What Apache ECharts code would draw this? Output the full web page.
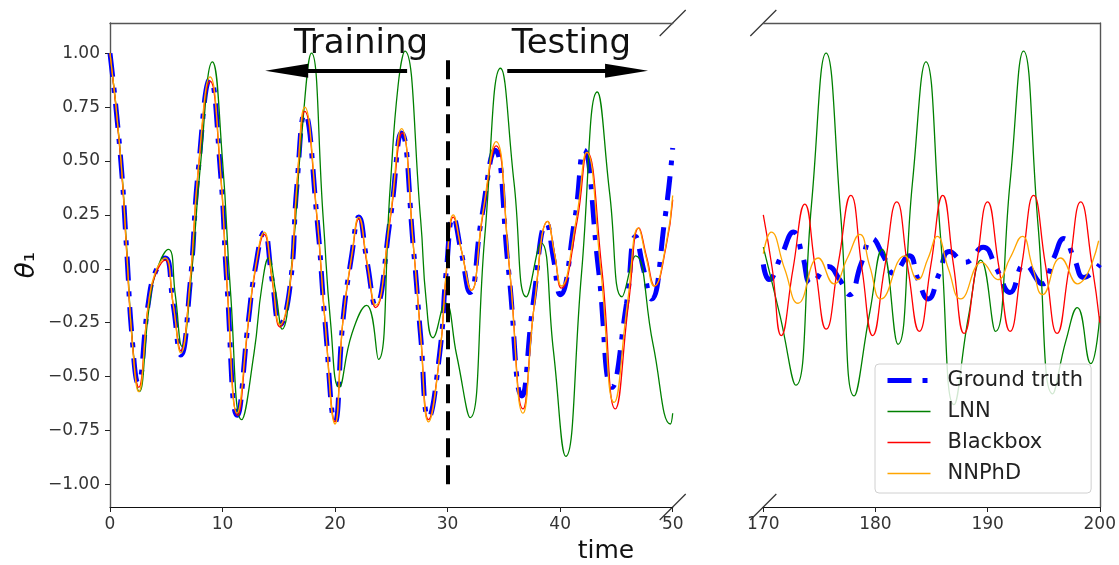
<!DOCTYPE html>
<html>
<head>
<meta charset="utf-8">
<title>theta1 trajectories</title>
<script src="https://cdn.jsdelivr.net/npm/echarts@6/dist/echarts.min.js"></script>
<style>
  html, body { margin: 0; padding: 0; background: #fff; }
  #chart { width: 1119px; height: 565px; }
</style>
</head>
<body>
<div id="chart"></div>
<script>
// series names
const names = ['Ground truth', 'LNN', 'Blackbox', 'NNPhD'];

// tick values
const yTicks = [-1.0, -0.75, -0.5, -0.25, 0, 0.25, 0.5, 0.75, 1.0];

// left panel (time 0..50), [t, theta1]
const gtLeft = [[0,1.00],[0.9,0.54],[1.5,0.07],[1.95,-0.31],[2.5,-0.53],[3.4,-0.16],[4.0,-0.02],[4.9,0.05],[5.6,-0.16],[6.3,-0.40],[7.1,-0.08],[7.85,0.46],[8.9,0.88],[9.8,0.46],[10.4,-0.08],[11.3,-0.68],[12.3,-0.24],[12.9,0.0],[13.7,0.17],[14.4,-0.05],[15.1,-0.26],[16.0,-0.08],[16.6,0.38],[17.3,0.72],[18.4,0.23],[19.1,-0.24],[20.0,-0.71],[20.7,-0.24],[21.5,0.07],[22.1,0.24],[22.85,0.03],[23.6,-0.17],[24.9,0.23],[25.9,0.63],[27.0,0.07],[27.6,-0.31],[28.3,-0.69],[29.3,-0.39],[29.9,0.0],[30.5,0.24],[31.2,0.08],[32.0,-0.11],[33.0,0.23],[34.2,0.55],[35.4,0.0],[36.6,-0.59],[37.6,-0.16],[38.8,0.21],[39.4,0.05],[40.0,-0.12],[41.3,0.23],[42.1,0.55],[43.4,0.0],[44.6,-0.55],[45.9,-0.16],[46.7,0.15],[47.4,0.0],[48.1,-0.14],[49.3,0.23],[50.0,0.56]];
const lnnLeft = [[0,1.00],[0.9,0.55],[1.5,0.08],[1.95,-0.31],[2.6,-0.57],[3.5,-0.17],[4.2,0.0],[5.2,0.09],[5.8,-0.12],[6.4,-0.36],[7.2,-0.05],[8.0,0.46],[9.1,0.96],[10.0,0.50],[10.7,-0.10],[11.7,-0.70],[12.8,-0.39],[13.5,-0.08],[14.1,0.05],[14.7,-0.10],[15.3,-0.28],[16.2,0.05],[17.0,0.60],[17.9,1.00],[18.95,0.23],[19.6,-0.25],[20.35,-0.55],[21.5,-0.30],[22.8,-0.17],[23.85,-0.42],[24.9,0.38],[25.6,0.85],[26.2,1.01],[27.6,0.23],[28.1,-0.15],[28.7,-0.32],[29.8,-0.16],[30.8,-0.40],[32.0,-0.69],[33.3,0.15],[34.7,0.93],[35.9,0.40],[37.0,-0.13],[38.3,0.12],[39.4,-0.38],[40.5,-0.87],[41.9,-0.02],[43.3,0.82],[44.4,0.35],[45.5,-0.13],[46.7,0.06],[48.25,-0.35],[49.8,-0.72],[50.0,-0.67]];
const bbLeft = [[0,1.00],[0.9,0.54],[1.5,0.06],[1.95,-0.32],[2.55,-0.55],[3.4,-0.17],[4.0,-0.03],[4.9,0.04],[5.6,-0.16],[6.3,-0.38],[7.1,-0.07],[7.85,0.46],[8.9,0.87],[9.8,0.46],[10.4,-0.08],[11.35,-0.68],[12.3,-0.25],[12.9,-0.01],[13.7,0.16],[14.4,-0.05],[15.1,-0.27],[16.0,-0.08],[16.6,0.38],[17.3,0.73],[18.4,0.23],[19.1,-0.24],[20.0,-0.71],[20.7,-0.24],[21.5,0.06],[22.1,0.23],[22.85,0.02],[23.6,-0.18],[24.9,0.23],[25.95,0.63],[27.0,0.08],[27.6,-0.30],[28.3,-0.70],[29.3,-0.40],[29.9,-0.01],[30.5,0.24],[31.25,0.08],[32.1,-0.10],[33.1,0.24],[34.3,0.57],[35.5,0.0],[36.7,-0.65],[37.7,-0.17],[38.9,0.22],[39.5,0.07],[40.1,-0.09],[41.5,0.22],[42.4,0.54],[43.7,0.0],[44.9,-0.65],[46.1,-0.15],[47.0,0.19],[47.7,0.05],[48.4,-0.08],[49.4,0.10],[50.0,0.32]];
const nnLeft = [[0,1.00],[0.9,0.55],[1.5,0.07],[1.95,-0.32],[2.55,-0.57],[3.4,-0.17],[4.0,-0.02],[4.9,0.05],[5.6,-0.16],[6.3,-0.39],[7.1,-0.07],[7.85,0.47],[8.9,0.89],[9.8,0.47],[10.4,-0.07],[11.3,-0.67],[12.3,-0.24],[12.9,0.0],[13.7,0.17],[14.4,-0.04],[15.1,-0.26],[16.0,-0.07],[16.6,0.39],[17.3,0.75],[18.4,0.24],[19.1,-0.24],[20.0,-0.72],[20.7,-0.24],[21.5,0.07],[22.1,0.24],[22.85,0.03],[23.6,-0.17],[24.9,0.24],[25.9,0.65],[27.0,0.08],[27.6,-0.31],[28.3,-0.71],[29.3,-0.40],[29.9,0.0],[30.5,0.25],[31.25,0.08],[32.1,-0.10],[33.1,0.25],[34.3,0.59],[35.5,0.0],[36.7,-0.67],[37.7,-0.17],[38.9,0.22],[39.5,0.07],[40.1,-0.08],[41.4,0.22],[42.35,0.54],[43.6,0.0],[44.8,-0.62],[46.0,-0.15],[46.95,0.19],[47.65,0.05],[48.35,-0.08],[49.4,0.11],[50.0,0.34]];

// right panel (time 170..200)
const gtRight = [[170,0.02],[170.5,-0.05],[171.6,0.06],[172.7,0.17],[173.5,0.06],[174.3,-0.07],[175.8,0.01],[176.8,-0.05],[177.7,-0.12],[178.7,0.02],[179.7,0.14],[180.7,0.06],[181.6,-0.02],[183.0,0.06],[183.8,-0.05],[184.7,-0.14],[185.7,-0.02],[186.6,0.08],[188.0,0.03],[189.6,0.10],[190.8,0.0],[192.0,-0.11],[193.3,0.02],[194.9,-0.07],[195.9,0.05],[196.8,0.14],[197.7,0.05],[198.6,-0.04],[200,0.02]];
const lnnRight = [[170,0.10],[171.5,-0.22],[172.9,-0.54],[174.3,0.30],[175.6,1.00],[176.9,0.25],[178.1,-0.59],[179.5,-0.20],[180.6,0.09],[182.0,-0.35],[183.3,0.40],[184.5,0.96],[185.8,0.15],[187.0,-0.63],[188.3,-0.22],[189.4,0.04],[190.7,-0.29],[192.0,0.40],[193.2,1.01],[194.5,0.20],[195.8,-0.58],[197.0,-0.33],[198.0,-0.18],[199.2,-0.44],[200,-0.22]];
const bbRight = [[170,0.25],[170.8,0.0],[171.6,-0.31],[172.65,0.0],[173.7,0.30],[174.65,0.0],[175.6,-0.28],[176.7,0.03],[177.8,0.34],[178.8,0.0],[179.75,-0.31],[180.8,0.0],[181.9,0.31],[182.9,0.0],[183.9,-0.29],[184.95,0.02],[186.0,0.34],[186.95,0.02],[187.9,-0.30],[188.95,0.0],[190.0,0.31],[191.0,0.01],[192.0,-0.29],[193.05,0.02],[194.1,0.34],[195.15,0.02],[196.2,-0.30],[197.25,0.0],[198.3,0.31],[199.3,0.02],[200,-0.25]];
const nnRight = [[170,0.07],[170.7,0.17],[171.9,0.0],[173.1,-0.16],[174.9,0.05],[176.3,-0.07],[177.5,0.05],[178.6,0.16],[179.5,0.01],[180.5,-0.14],[182.6,0.06],[183.75,-0.05],[184.7,0.05],[185.5,0.15],[186.5,0.0],[187.6,-0.14],[189.5,0.03],[190.9,-0.05],[192.0,0.05],[193.1,0.15],[194.0,0.01],[194.9,-0.12],[196.5,0.05],[198.0,-0.07],[199.9,0.13]];

const FONT = 'DejaVu Sans';
// plot area edges (px)
const L0 = 110, R0 = 672.7, L1 = 763.3, R1 = 1101.7, TOP = 23, BOT = 507;

const chart = echarts.init(document.getElementById('chart'));

const fmtTick = v => (v < 0 ? '\u2212' : '') + Math.abs(v).toFixed(2);

const axisLineDark = { show: true, onZero: false, lineStyle: { color: '#111', width: 1.2 } };
const axisLineGray = { show: true, onZero: false, lineStyle: { color: '#555', width: 1.4 } };

function xBottom(grid, min, max) {
  return {
    type: 'value', gridIndex: grid, position: 'bottom', min: min, max: max, interval: 10,
    axisLine: axisLineDark,
    axisTick: { show: true, length: 5, lineStyle: { color: '#222' } },
    axisLabel: { fontFamily: FONT, fontSize: 17, color: '#333', margin: 9 },
    splitLine: { show: false }
  };
}
function xTop(grid, min, max) {
  return {
    type: 'value', gridIndex: grid, position: 'top', min: min, max: max,
    axisLine: axisLineGray, axisTick: { show: false }, axisLabel: { show: false },
    splitLine: { show: false }
  };
}

function line(name, data, color, xi, yi, extra) {
  return Object.assign({
    name: name, type: 'line', data: data, xAxisIndex: xi, yAxisIndex: yi,
    symbol: 'none', smooth: true, animation: false,
    lineStyle: { color: color, width: 1.3 },
    itemStyle: { color: color }
  }, extra || {});
}

const gtDash = [24, 11, 5, 11];
const gtStyle = { color: '#0000ff', width: 5, type: gtDash, cap: 'butt' };

const option = {
  animation: false,
  grid: [
    { left: L0, top: TOP, width: R0 - L0, height: BOT - TOP },
    { left: L1, top: TOP, width: R1 - L1, height: BOT - TOP }
  ],
  xAxis: [xBottom(0, 0, 50), xTop(0, 0, 50), xBottom(1, 170, 200), xTop(1, 170, 200)],
  yAxis: [
    {
      type: 'value', gridIndex: 0, min: -1.105, max: 1.14,
      axisLine: axisLineGray,
      axisTick: { show: true, length: 5, customValues: yTicks, lineStyle: { color: '#222' } },
      axisLabel: { customValues: yTicks, formatter: fmtTick, fontFamily: FONT, fontSize: 17, color: '#333', margin: 10 },
      splitLine: { show: false }
    },
    {
      type: 'value', gridIndex: 1, position: 'right', min: -1.105, max: 1.14,
      axisLine: axisLineGray, axisTick: { show: false }, axisLabel: { show: false },
      splitLine: { show: false }
    }
  ],
  legend: {
    data: [
      { name: names[0], lineStyle: { width: 5, type: gtDash } },
      { name: names[1], lineStyle: { width: 1.6 } },
      { name: names[2], lineStyle: { width: 1.6 } },
      { name: names[3], lineStyle: { width: 1.6 } }
    ],
    orient: 'vertical',
    left: 875, top: 364,
    itemWidth: 43, itemHeight: 14, itemGap: 10,
    padding: [6, 8, 9, 10],
    backgroundColor: 'rgba(255,255,255,0.82)',
    borderColor: '#d0d0d0', borderWidth: 1, borderRadius: 4,
    itemStyle: { opacity: 0 },
    textStyle: { fontFamily: FONT, fontSize: 21, color: '#222', lineHeight: 21, padding: [0, 0, 0, 12] },
    z: 10
  },
  graphic: [
    { type: 'text', style: { text: 'time', font: '25px "DejaVu Sans"', fill: '#111', x: 606, y: 551, textAlign: 'center', textVerticalAlign: 'middle' } },
    {
      type: 'text', x: 27, y: 265, rotation: Math.PI / 2,
      style: {
        text: '{t|θ}{s|₁}', x: 0, y: 0, textAlign: 'center', textVerticalAlign: 'middle', fill: '#111',
        rich: { t: { fontFamily: FONT, fontStyle: 'italic', fontSize: 26, fill: '#111' }, s: { fontFamily: FONT, fontSize: 26, fill: '#111' } }
      }
    }
  ].concat([[R0, TOP], [R0, BOT], [L1, TOP], [L1, BOT]].map(p => ({
    type: 'line', silent: true,
    shape: { x1: p[0] - 13, y1: p[1] + 13, x2: p[0] + 13, y2: p[1] - 13 },
    style: { stroke: '#333', lineWidth: 1.2 }
  }))),
  series: [
    line(names[0], gtLeft, '#0000ff', 0, 0, {
      lineStyle: gtStyle,
      markLine: {
        silent: true, animation: false, label: { show: false },
        data: [
          [{ coord: [30, -1], symbol: 'none', lineStyle: { color: '#000', width: 4, type: [19, 8] } }, { coord: [30, 1], symbol: 'none' }],
          [{ coord: [26.4, 0.918], symbol: 'none', lineStyle: { color: '#000', width: 4, type: 'solid' } }, { coord: [15.7, 0.918], symbol: 'triangle', symbolSize: [14, 43] }],
          [{ coord: [35.3, 0.918], symbol: 'none', lineStyle: { color: '#000', width: 4, type: 'solid' } }, { coord: [45.9, 0.918], symbol: 'triangle', symbolSize: [14, 43] }]
        ],
        itemStyle: { color: '#000' }
      },
      markPoint: {
        silent: true, animation: false, symbol: 'rect', symbolSize: 1,
        itemStyle: { color: 'rgba(0,0,0,0)' },
        label: { show: true, position: 'inside', formatter: '{b}', fontFamily: FONT, fontSize: 34, color: '#111' },
        data: [{ name: 'Training', coord: [22.3, 1.04] }, { name: 'Testing', coord: [41.0, 1.04] }]
      }
    }),
    line(names[1], lnnLeft, '#008000', 0, 0),
    line(names[2], bbLeft, '#ff0000', 0, 0),
    line(names[3], nnLeft, '#ffa500', 0, 0),
    line(names[0], gtRight, '#0000ff', 2, 1, { lineStyle: gtStyle }),
    line(names[1], lnnRight, '#008000', 2, 1),
    line(names[2], bbRight, '#ff0000', 2, 1),
    line(names[3], nnRight, '#ffa500', 2, 1)
  ]
};

chart.setOption(option);
</script>
</body>
</html>
